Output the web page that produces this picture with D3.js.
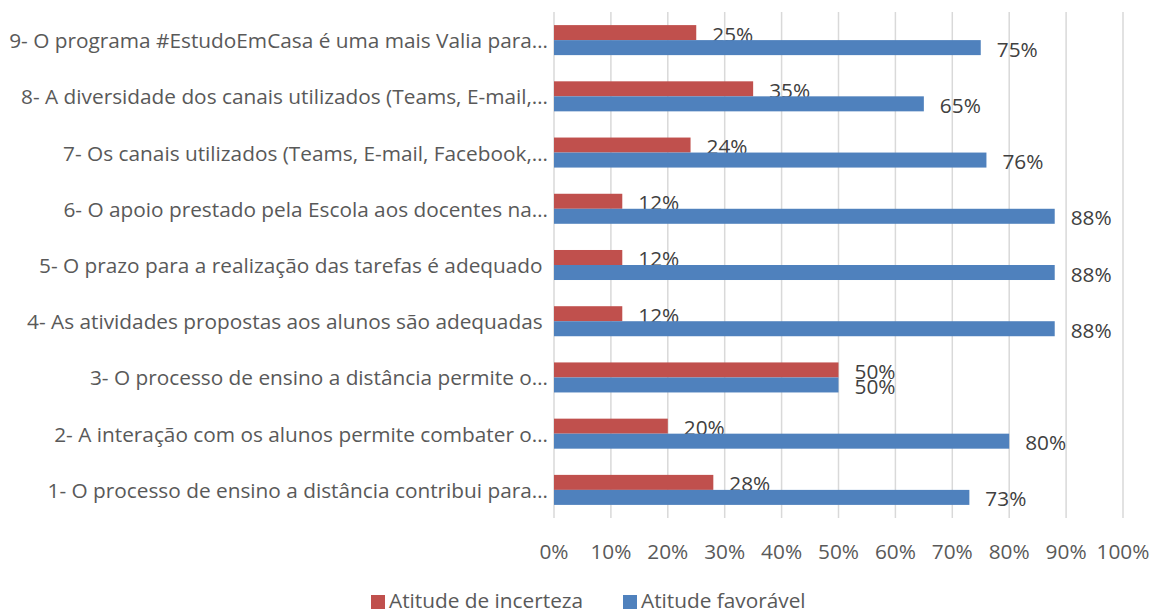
<!DOCTYPE html>
<html>
<head>
<meta charset="utf-8">
<script src="https://cdn.jsdelivr.net/npm/d3@7"></script>
<style>
  html, body { margin: 0; padding: 0; background: #fff; }
  svg { display: block; font-family: "Open Sans", "DejaVu Sans", sans-serif; }
</style>
</head>
<body>
<svg id="chart" width="1153" height="610"></svg>
<script>
// Survey statements, bottom to top
const categories = [
  "1- O processo de ensino a distância contribui para…",
  "2- A interação com os alunos permite combater o…",
  "3- O processo de ensino a distância permite o…",
  "4- As atividades propostas aos alunos são adequadas ",
  "5- O prazo para a realização das tarefas é adequado ",
  "6- O apoio prestado pela Escola aos docentes na…",
  "7- Os canais utilizados (Teams, E-mail, Facebook,…",
  "8- A diversidade dos canais utilizados (Teams, E-mail,…",
  "9- O programa #EstudoEmCasa é uma mais Valia para…"
];
const incerteza = [28, 20, 50, 12, 12, 12, 24, 35, 25];
const favoravel = [73, 80, 50, 88, 88, 88, 76, 65, 75];
const seriesNames = ["Atitude de incerteza", "Atitude favorável"];
const seriesColors = ["#C0504D", "#4F81BD"];
const xTicks = [0, 10, 20, 30, 40, 50, 60, 70, 80, 90, 100];

const FS = 20.8;
const svg = d3.select("#chart");
const plot = { left: 554, right: 1123, top: 12, bottom: 518 };

const x = d3.scaleLinear().domain([0, 100]).range([plot.left, plot.right]);
// top row is the last statement
const y = d3.scaleBand()
  .domain(d3.range(categories.length).reverse())
  .range([plot.top, plot.bottom])
  .paddingInner(0.466).paddingOuter(0.233);
const sub = d3.scaleBand().domain([0, 1]).range([0, y.bandwidth()]);

// vertical gridlines
svg.append("g").selectAll("line").data(xTicks).join("line")
  .attr("x1", d => x(d)).attr("x2", d => x(d))
  .attr("y1", plot.top).attr("y2", plot.bottom)
  .attr("stroke", "#D9D9D9").attr("stroke-width", 1.5);

// x tick labels
svg.append("g").selectAll("text").data(xTicks).join("text")
  .attr("x", d => x(d)).attr("y", 551)
  .attr("text-anchor", "middle").attr("dominant-baseline", "central")
  .attr("font-size", FS).attr("fill", "#595959")
  .text(d => d + "%");

// category labels
svg.append("g").selectAll("text").data(categories).join("text")
  .attr("x", 548).attr("y", (d, i) => y(i) + y.bandwidth() / 2)
  .attr("text-anchor", "end").attr("dominant-baseline", "central")
  .attr("font-size", FS).attr("fill", "#595959")
  .style("white-space", "pre")
  .text(d => d);

const series = [incerteza, favoravel];
series.forEach((vals, s) => {
  const g = svg.append("g");
  g.selectAll("rect").data(vals).join("rect")
    .attr("x", x(0))
    .attr("y", (d, i) => y(i) + sub(s))
    .attr("width", d => x(d) - x(0))
    .attr("height", sub.bandwidth())
    .attr("fill", seriesColors[s]);
  g.selectAll("text").data(vals).join("text")
    .attr("x", d => x(d) + 16)
    .attr("y", (d, i) => y(i) + sub(s) + sub.bandwidth() / 2 + 1)
    .attr("dominant-baseline", "central")
    .attr("font-size", FS).attr("fill", "#404040")
    .text(d => d + "%");
});

// legend
const legend = svg.append("g");
const legendX = [371, 623];
seriesNames.forEach((name, s) => {
  legend.append("rect")
    .attr("x", legendX[s]).attr("y", 595).attr("width", 14).attr("height", 14)
    .attr("fill", seriesColors[s]);
  legend.append("text")
    .attr("x", legendX[s] + 18).attr("y", 608)
    .attr("font-size", FS).attr("fill", "#595959")
    .text(name);
});
</script>
</body>
</html>
